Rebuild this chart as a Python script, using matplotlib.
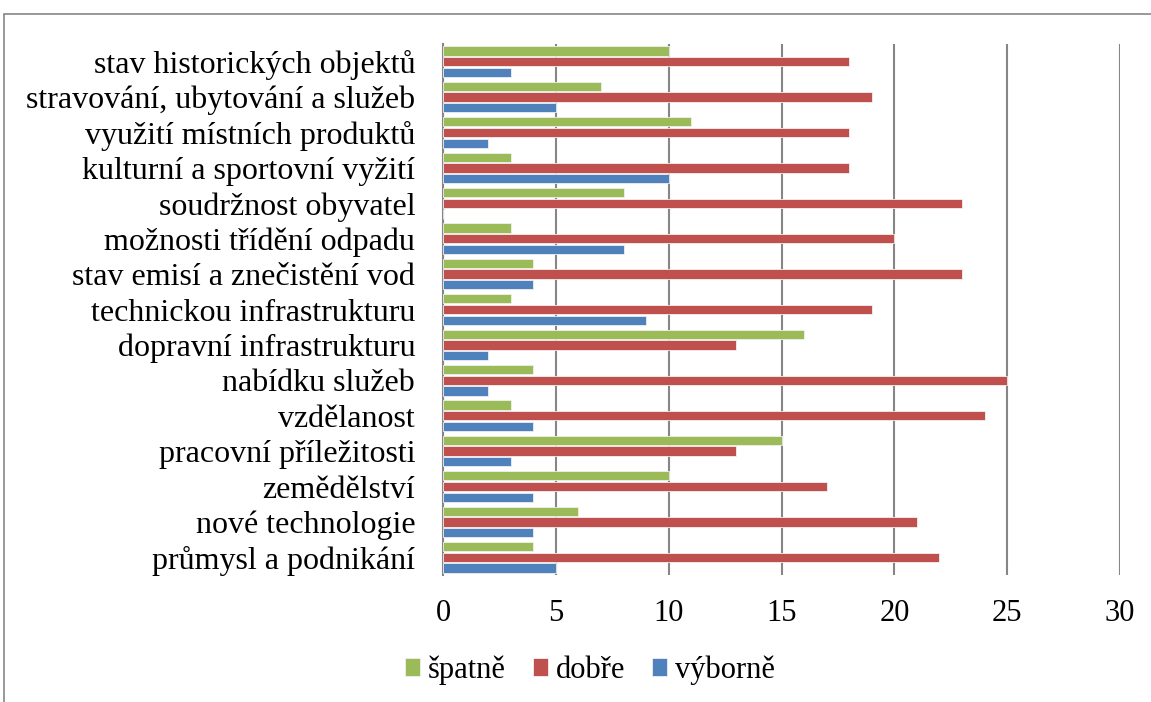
import matplotlib
matplotlib.use("Agg")
import matplotlib.pyplot as plt
from matplotlib.patches import Rectangle
import numpy as np

plt.rcParams['font.family'] = ['Liberation Serif', 'DejaVu Serif']

categories = ['stav historických objektů', 'stravování, ubytování a služeb',
              'využití místních produktů', 'kulturní a sportovní vyžití',
              'soudržnost obyvatel', 'možnosti třídění odpadu',
              'stav emisí a znečistění vod', 'technickou infrastrukturu',
              'dopravní infrastrukturu', 'nabídku služeb', 'vzdělanost',
              'pracovní příležitosti', 'zemědělství', 'nové technologie',
              'průmysl a podnikání']
spatne = [10, 7, 11, 3, 8, 3, 4, 3, 16, 4, 3, 15, 10, 6, 4]
dobre = [18, 19, 18, 18, 23, 20, 23, 19, 13, 25, 24, 13, 17, 21, 22]
vyborne = [3, 5, 2, 10, 0, 8, 4, 9, 2, 2, 4, 3, 4, 4, 5]
series = ['špatně', 'dobře', 'výborně']
colors = ['#9BBB59', '#C0504D', '#4F81BD']

fig = plt.figure(figsize=(11.51, 7.02), dpi=100)
ax = fig.add_axes([443/1151, 1-575/702, (1120-443)/1151, (575-44)/702])

n = len(categories)
y = np.arange(n)[::-1]
step = 0.30
h = 0.26
for i, (vals, lab, c) in enumerate(zip([spatne, dobre, vyborne], series, colors)):
    ax.barh(y + (1 - i) * step, vals, height=h, color=c, label=lab, zorder=3,
            edgecolor='#f0f0f0', linewidth=0.6)

ax.set_xlim(0, 30)
ax.set_ylim(-0.5, n - 0.5)
ax.set_xticks(range(0, 31, 5))
ax.set_yticks(y)
ax.set_yticklabels(categories, fontsize=23)
ax.tick_params(axis='x', labelsize=22, length=0, pad=17)
ax.tick_params(axis='y', length=0, pad=20)
ax.xaxis.grid(True, color='#868686', linewidth=1.5, zorder=0)
for s in ['top', 'right', 'bottom']:
    ax.spines[s].set_visible(False)
ax.spines['left'].set_color('#868686')
ax.spines['left'].set_linewidth(1.5)

fig.legend(loc='center', bbox_to_anchor=(590/1151, 1-670/702), ncol=3,
           frameon=False, fontsize=22, handlelength=0.48, handleheight=0.52,
           handletextpad=0.25, columnspacing=0.9)

fig.patches.append(Rectangle((4/1151, -0.1), 1.2, 1-14/702+0.1,
                             transform=fig.transFigure, fill=False,
                             edgecolor='#868686', linewidth=1.2))

fig.savefig('out.png', dpi=100)
